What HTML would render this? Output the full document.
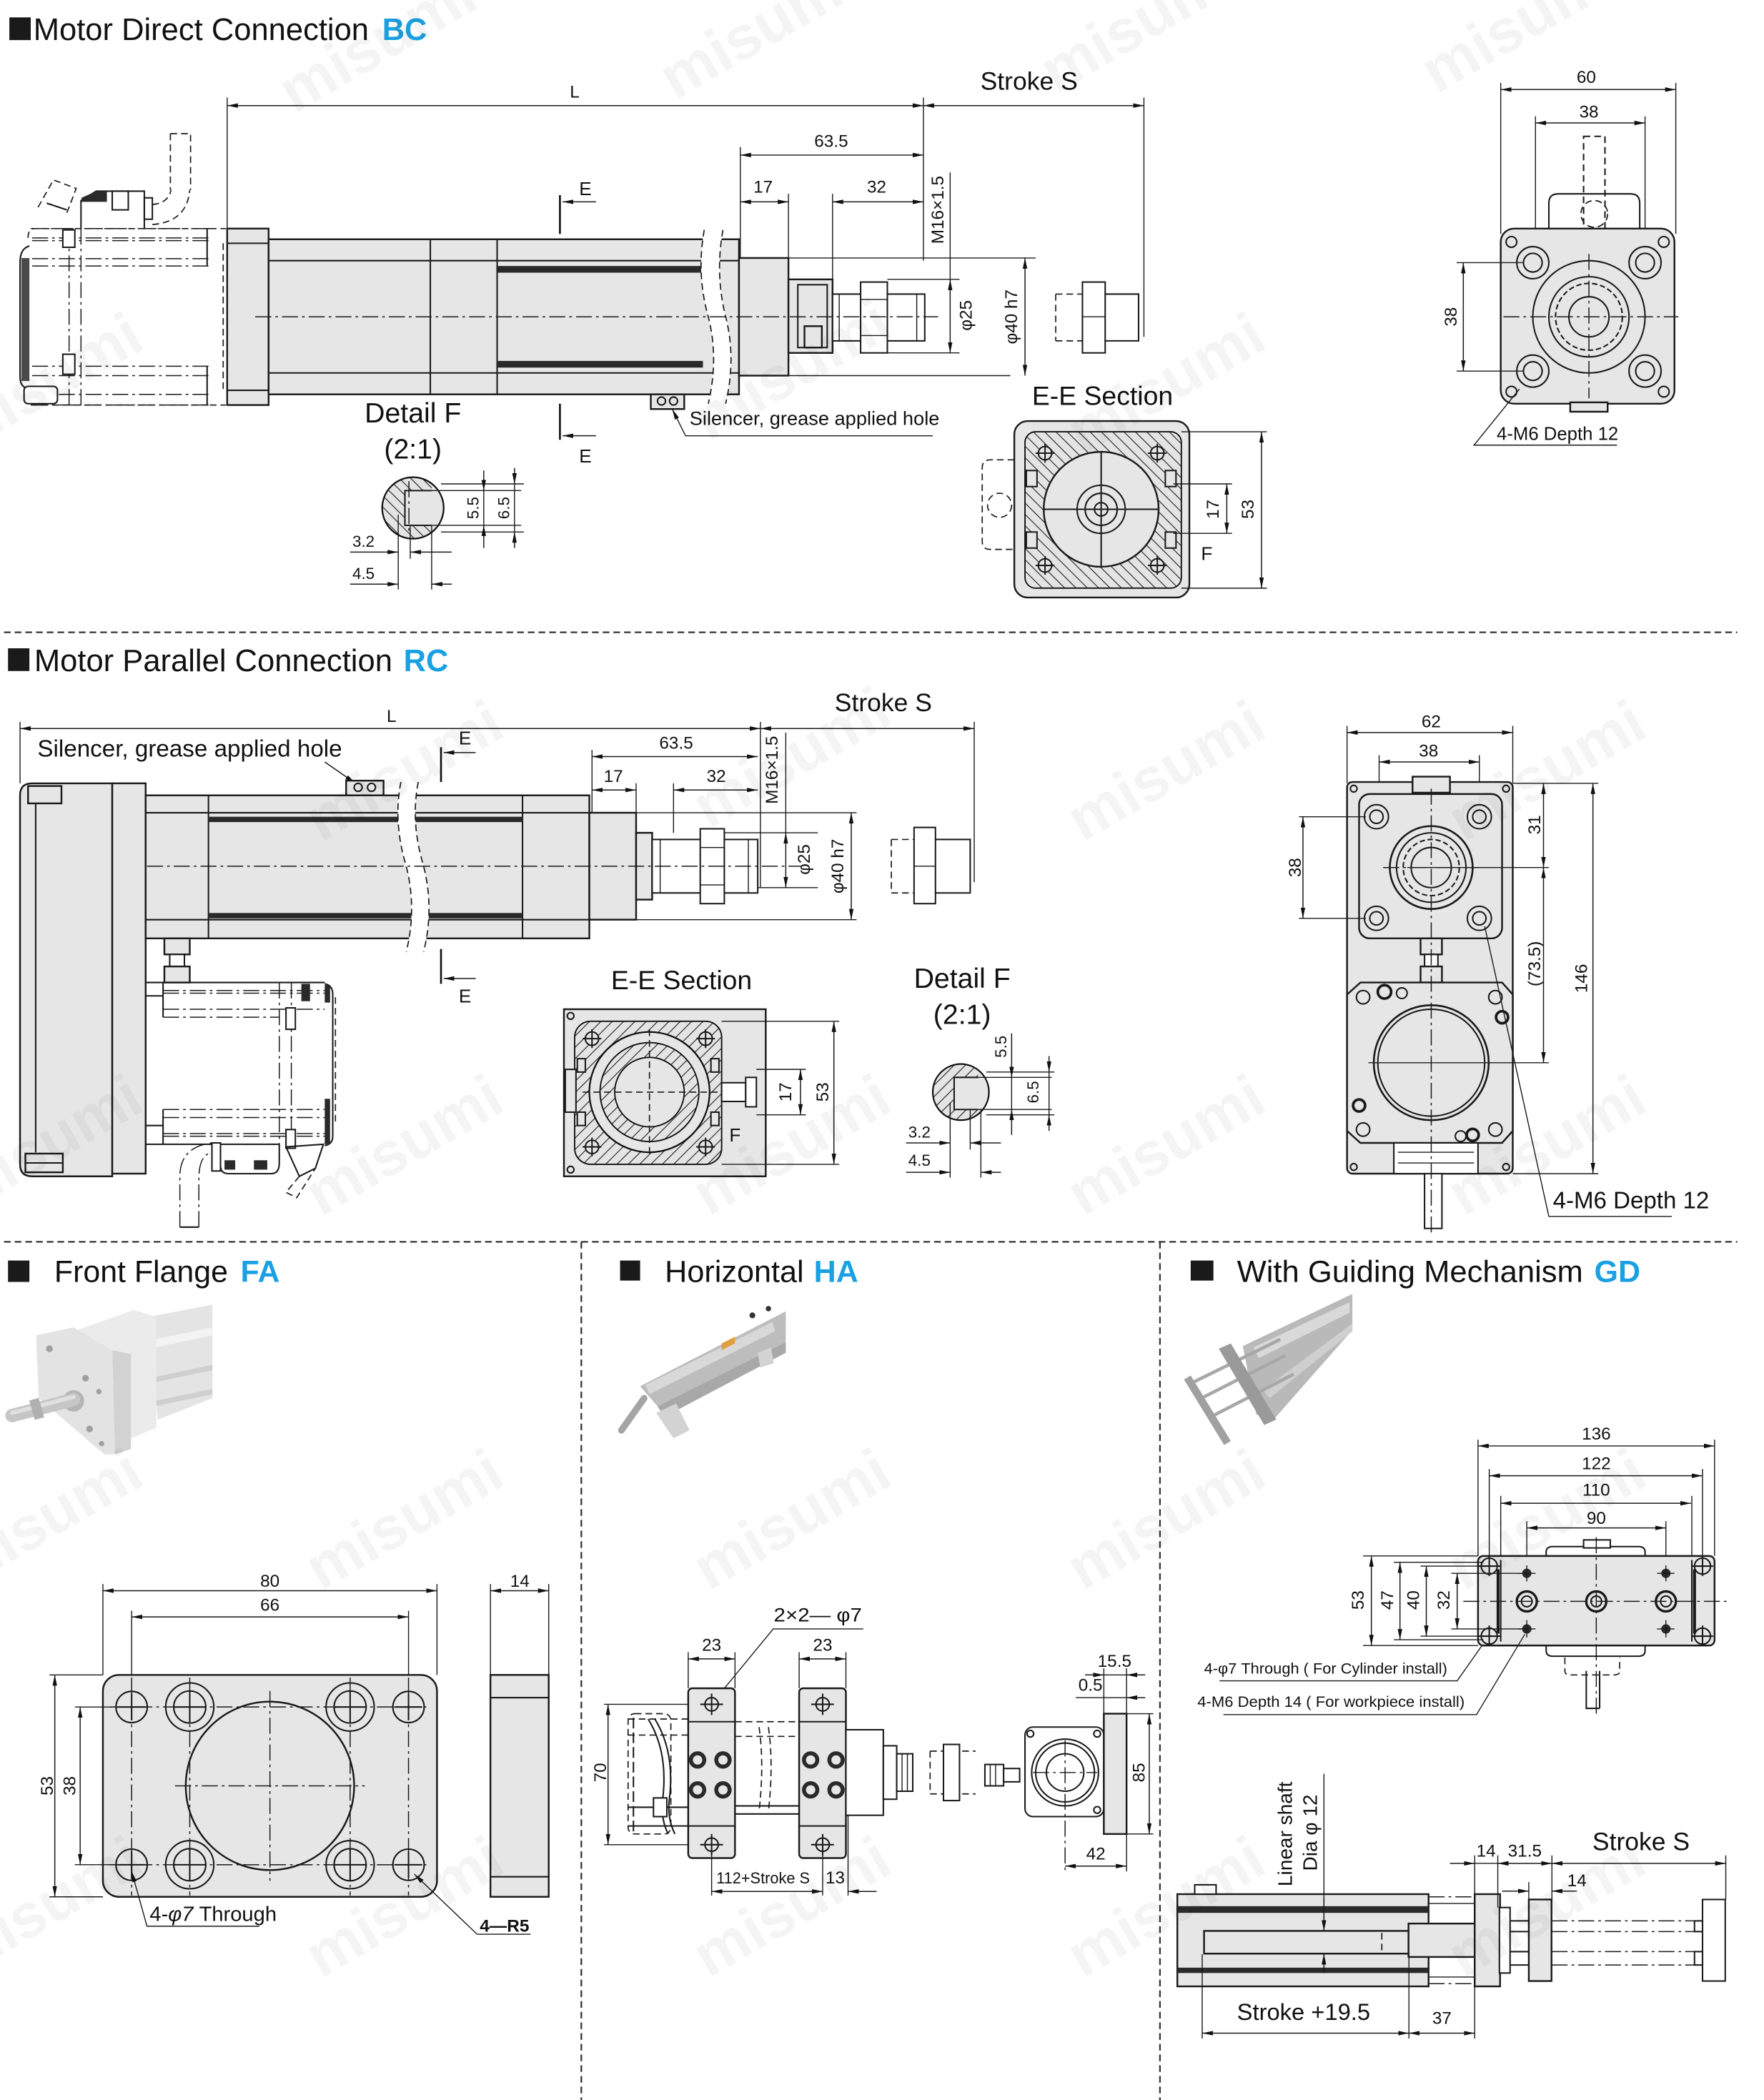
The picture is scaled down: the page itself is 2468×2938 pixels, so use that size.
<!DOCTYPE html>
<html><head><meta charset="utf-8"><style>
html,body{margin:0;padding:0;background:#fff;}
svg{display:block;}
</style></head><body>
<svg xmlns="http://www.w3.org/2000/svg" width="2468" height="2938" viewBox="0 0 1320 1571" preserveAspectRatio="none">
<defs>
<marker id="a" viewBox="0 0 8 4" refX="8" refY="2" markerWidth="8" markerHeight="4" orient="auto-start-reverse" markerUnits="userSpaceOnUse"><path d="M0,0.3L8,2L0,3.7Z" fill="#111"/></marker>
<pattern id="hb" width="6" height="6" patternUnits="userSpaceOnUse" patternTransform="rotate(-45)"><rect width="6" height="6" fill="#e4e4e4"/><line x1="0" y1="0" x2="0" y2="6" stroke="#222" stroke-width="1.2"/></pattern>
<pattern id="hr" width="6" height="6" patternUnits="userSpaceOnUse" patternTransform="rotate(45)"><rect width="6" height="6" fill="#e4e4e4"/><line x1="0" y1="0" x2="0" y2="6" stroke="#222" stroke-width="1.2"/></pattern>
<clipPath id="cf1"><circle cx="309" cy="380" r="23"/></clipPath>
<clipPath id="cf2"><circle cx="719" cy="817" r="21"/></clipPath>
</defs>
<style>
.o{fill:#e6e6e6;stroke:#1a1a1a;stroke-width:1.3}
.w{fill:#fff;stroke:#1a1a1a;stroke-width:1.1}
.n{fill:none;stroke:#1a1a1a;stroke-width:1.1}
.t{fill:none;stroke:#1a1a1a;stroke-width:0.75}
.d{fill:none;stroke:#1a1a1a;stroke-width:0.8;marker-start:url(#a);marker-end:url(#a)}
.d1{fill:none;stroke:#1a1a1a;stroke-width:0.8;marker-end:url(#a)}
.cl{fill:none;stroke:#1a1a1a;stroke-width:0.8;stroke-dasharray:12 3 2 3}
.hd{fill:none;stroke:#1a1a1a;stroke-width:0.9;stroke-dasharray:5 3}
.sep{fill:none;stroke:#333;stroke-width:1.2;stroke-dasharray:5 3}
text{font-family:"Liberation Sans",Arial,sans-serif;fill:#111}
.dim{font-size:13px}
.b{fill:#1ba1e2;font-weight:bold}
</style>

<!-- ============ BC ============ -->
<rect x="7" y="13" width="16" height="17" fill="#1a1a1a"/>
<text x="25" y="30" font-size="23.2" textLength="251" lengthAdjust="spacingAndGlyphs">Motor Direct Connection</text>
<text x="286" y="30" font-size="23.2" class="b">BC</text>

<path class="d" d="M170,79H691"/>
<path class="d" d="M691,79H856"/>
<text x="430" y="73" class="dim" text-anchor="middle">L</text>
<text x="770" y="67" font-size="19" text-anchor="middle">Stroke S</text>
<path class="t" d="M170,73V171 M691,73V195 M856,73V252"/>
<path class="d" d="M554,116H691"/>
<text x="622" y="110" class="dim" text-anchor="middle">63.5</text>
<path class="t" d="M554,110V193 M590,145V209 M623,145V220"/>
<path class="d" d="M554,151H590"/>
<path class="d" d="M623,151H691"/>
<text x="571" y="144" class="dim" text-anchor="middle">17</text>
<text x="656" y="144" class="dim" text-anchor="middle">32</text>
<text transform="translate(706,157) rotate(-90)" class="dim" text-anchor="middle">M16×1.5</text>
<path class="t" d="M711,129V209"/>
<path class="d" d="M711,209V264"/>
<path class="t" d="M664,209H718 M664,264H718 M590,193H775 M590,281H756"/>
<path class="d" d="M767,193V281"/>
<text transform="translate(727,236) rotate(-90)" class="dim" text-anchor="middle">φ25</text>
<text transform="translate(761,237) rotate(-90)" class="dim" text-anchor="middle">φ40 h7</text>

<!-- motor back -->
<path class="hd" d="M157,171H26Q21,171 21,178 M23,303H157"/>
<path class="cl" d="M23,171H157 M24,178H157 M24,180H157 M24,193.5H157 M24,199H157 M24,274H157 M24,281H157 M24,295H157 M24,303H157"/>
<path class="n" d="M155,171V199 M155,274V303"/>
<path class="cl" d="M51.7,171V303 M60.6,171V303"/>
<rect x="47" y="172" width="9" height="13" class="w" stroke-width="1.6"/>
<rect x="47" y="265" width="9" height="15" class="w" stroke-width="1.6"/>
<path class="n" d="M22,184Q15,186 15,196V282Q15,290 22,291" stroke-width="1.6"/>
<path d="M16,193H22V285H16Z" fill="#2a2a2a" opacity="0.85"/>
<rect x="18" y="289" width="25" height="13" rx="3" class="w"/>
<path class="hd" d="M157,171H169 M157,303H169 M167,182V292"/>
<path class="n" d="M60.6,171V150L72,143H108V171" stroke-width="1.2"/>
<path d="M61,148L72,143H80V151H61Z" fill="#2a2a2a"/>
<rect x="84" y="143" width="12" height="14" class="n"/>
<rect x="108" y="148" width="6" height="16" class="n"/>
<path class="hd" d="M127.5,100H142.6V142 M127.5,100V142 M114,153Q126,152 128,142 M114,168Q140,166 142,142"/>
<path class="hd" d="M28.5,155L40,134.6L57,141L49,162"/>
<path class="n" d="M35,152L50,157" stroke-width="2.5"/>

<rect x="170" y="171" width="31" height="132" class="o"/>
<path class="n" d="M170,182H201 M170,292H201"/>
<rect x="201" y="179" width="352" height="116" class="o"/>
<path class="n" d="M201,195H553 M201,279H553 M322,179V295 M372,179V295"/>
<rect x="372" y="199" width="154" height="5" fill="#2a2a2a"/>
<rect x="372" y="270" width="154" height="5" fill="#2a2a2a"/>
<path fill="#fff" d="M527,172Q521,205 530,237Q538,268 530,302L543,302Q551,268 543,237Q535,205 541,172Z"/>
<path class="hd" d="M527,172Q521,205 530,237Q538,268 530,302 M541,172Q535,205 543,237Q551,268 543,302"/>
<rect x="553" y="193" width="37" height="88" class="o"/>
<rect x="590" y="209" width="33" height="55" class="o"/>
<rect x="597" y="213" width="22" height="47" class="n"/>
<rect x="602" y="244" width="13" height="16" class="o"/>
<rect x="623" y="220" width="69" height="35" class="w"/>
<path class="t" d="M628,220V255 M686,220V255"/>
<rect x="644" y="211" width="20" height="53" class="w"/>
<path class="t" d="M644,224H664 M644,251H664"/>
<path class="cl" d="M191,237H702"/>
<path class="hd" d="M790,220H810 M790,255H810 M790,220V255"/>
<rect x="810" y="211" width="17" height="53" class="w"/>
<path class="t" d="M810,237H827"/>
<path class="n" d="M827,220H852V255H827 M852,222V253"/>

<rect x="487" y="295" width="25" height="11" class="o"/>
<circle cx="495" cy="300" r="3" class="n"/><circle cx="504" cy="300" r="3" class="n"/>
<path class="t" d="M503,306L513,326H698" style="marker-start:url(#a)"/>
<text x="516" y="318" font-size="14.5" textLength="187" lengthAdjust="spacingAndGlyphs">Silencer, grease applied hole</text>

<path stroke="#111" stroke-width="1.4" d="M419,146V175 M419,302V329"/>
<path class="d1" d="M446,151H421"/>
<path class="d1" d="M446,326H421"/>
<text x="438" y="146" font-size="14" text-anchor="middle">E</text>
<text x="438" y="346" font-size="14" text-anchor="middle">E</text>

<!-- Detail F BC -->
<text x="309" y="316" font-size="21" text-anchor="middle">Detail F</text>
<text x="309" y="343" font-size="21" text-anchor="middle">(2:1)</text>
<circle cx="309" cy="380" r="23" fill="url(#hb)"/>
<rect x="303" y="367" width="35" height="26" fill="#e6e6e6" clip-path="url(#cf1)"/>
<path fill="#e6e6e6" clip-path="url(#cf1)" d="M323,355H340V405H323Z"/>
<circle cx="309" cy="380" r="23" fill="none" stroke="#111" stroke-width="1.2"/>
<path class="n" d="M323,367H303V393H323"/>
<path class="cl" d="M306,360V400"/>
<path class="t" d="M323,367H390 M323,393H390 M330,362H392 M330,398H392"/>
<path class="d1" d="M362,352V367"/><path class="d1" d="M362,410V393"/><path class="t" d="M362,367V393"/>
<path class="d1" d="M385,350V362"/><path class="d1" d="M385,410V398"/><path class="t" d="M385,362V398"/>
<text transform="translate(358,380) rotate(-90)" font-size="12" text-anchor="middle">5.5</text>
<text transform="translate(381,380) rotate(-90)" font-size="12" text-anchor="middle">6.5</text>
<text x="272" y="409" font-size="12" text-anchor="middle">3.2</text>
<text x="272" y="433" font-size="12" text-anchor="middle">4.5</text>
<path class="d1" d="M262,413H298"/><path class="d1" d="M338,413H307"/>
<path class="d1" d="M262,437H298"/><path class="d1" d="M338,437H323"/>
<path class="t" d="M298,385V441 M307,393V418 M323,393V441"/>

<!-- E-E BC -->
<text x="825" y="303" font-size="20" text-anchor="middle">E-E Section</text>
<path class="hd" d="M759,344H741Q735,344 735,350V405Q735,411 741,411H759"/>
<circle cx="748" cy="378" r="9" class="hd"/>
<rect x="759" y="315" width="131" height="132" rx="10" class="o" stroke-width="1.6"/>
<rect x="767" y="323" width="117" height="117" rx="8" fill="url(#hb)" stroke="#111"/>
<circle cx="824" cy="381" r="43" class="o"/>
<circle cx="824" cy="381" r="18" class="n"/><circle cx="824" cy="381" r="12" class="n"/><circle cx="824" cy="381" r="5" class="n"/>
<path class="n" d="M781,381H867 M824,338V424"/>
<g class="n">
<circle cx="782" cy="339" r="5" fill="#e6e6e6"/><circle cx="866" cy="339" r="5" fill="#e6e6e6"/><circle cx="782" cy="423" r="5" fill="#e6e6e6"/><circle cx="866" cy="423" r="5" fill="#e6e6e6"/>
<path d="M775,339H789 M782,332V346 M859,339H873 M866,332V346 M775,423H789 M782,416V430 M859,423H873 M866,416V430"/>
<rect x="768" y="352" width="8" height="12" fill="#e6e6e6"/><rect x="768" y="398" width="8" height="12" fill="#e6e6e6"/>
<rect x="872" y="352" width="8" height="12" fill="#e6e6e6"/><rect x="872" y="398" width="8" height="12" fill="#e6e6e6"/>
</g>
<path class="t" d="M884,323H948 M884,440H948 M878,362H922 M878,399H922"/>
<path class="d" d="M944,323V440"/>
<path class="d" d="M918,362V399"/>
<text transform="translate(938,381) rotate(-90)" class="dim" text-anchor="middle">53</text>
<text transform="translate(912,381) rotate(-90)" class="dim" text-anchor="middle">17</text>
<text x="903" y="419" font-size="14" text-anchor="middle">F</text>

<!-- right view BC -->
<path class="t" d="M1123,62V175 M1254,62V175 M1149,87V196 M1231,87V196"/>
<path class="d" d="M1123,67H1254"/>
<path class="d" d="M1149,92H1231"/>
<text x="1187" y="62" class="dim" text-anchor="middle">60</text>
<text x="1189" y="88" class="dim" text-anchor="middle">38</text>
<rect x="1185" y="102" width="16" height="69" class="w" stroke-dasharray="5 3"/>
<path class="n" d="M1159,171V152Q1159,145 1166,145H1220Q1227,145 1227,152V171"/>
<circle cx="1193" cy="160" r="10" class="hd"/>
<rect x="1123" y="171" width="130" height="131" rx="10" class="o" stroke-width="1.6"/>
<g class="n">
<circle cx="1131" cy="181" r="4"/><circle cx="1245" cy="181" r="4"/><circle cx="1131" cy="293" r="4"/><circle cx="1245" cy="293" r="4"/>
<circle cx="1147" cy="196.5" r="12"/><circle cx="1147" cy="196.5" r="7"/>
<circle cx="1231" cy="196.5" r="12"/><circle cx="1231" cy="196.5" r="7"/>
<circle cx="1147" cy="277.6" r="12"/><circle cx="1147" cy="277.6" r="7"/>
<circle cx="1231" cy="277.6" r="12"/><circle cx="1231" cy="277.6" r="7"/>
<circle cx="1189" cy="237" r="42"/><circle cx="1189" cy="237" r="30"/><circle cx="1189" cy="237" r="25" stroke-dasharray="4 2"/><circle cx="1189" cy="237" r="15"/>
</g>
<path class="cl" d="M1125,237H1256 M1189,190V298"/>
<rect x="1175" y="301" width="28" height="7" class="o"/>
<path class="t" d="M1090,196.5H1140 M1090,277.6H1140"/>
<path class="d" d="M1095,196.5V277.6"/>
<text transform="translate(1090,237) rotate(-90)" class="dim" text-anchor="middle">38</text>
<text x="1120" y="329" font-size="13.7" textLength="91" lengthAdjust="spacingAndGlyphs">4-M6 Depth 12</text>
<path class="t" d="M1137,291L1103,333H1210"/>

<path class="sep" d="M3,473H1300"/>

<!-- ============ RC ============ -->
<rect x="6" y="485" width="16" height="17" fill="#1a1a1a"/>
<text x="25.6" y="502" font-size="23.2" textLength="268" lengthAdjust="spacingAndGlyphs">Motor Parallel Connection</text>
<text x="302" y="502" font-size="23.2" class="b">RC</text>

<path class="d" d="M15,545H569"/>
<path class="d" d="M569,545H729"/>
<text x="293" y="540" class="dim" text-anchor="middle">L</text>
<text x="661" y="532" font-size="19" text-anchor="middle">Stroke S</text>
<path class="t" d="M15,540V586 M569,540V664 M729,540V660"/>
<path class="d" d="M443,566H567"/>
<text x="506" y="560" class="dim" text-anchor="middle">63.5</text>
<path class="t" d="M443,561V608 M476,586V608 M504,586V623"/>
<path class="d" d="M443,591H476"/>
<path class="d" d="M504,591H567"/>
<text x="459" y="585" class="dim" text-anchor="middle">17</text>
<text x="536" y="585" class="dim" text-anchor="middle">32</text>
<text transform="translate(582,576) rotate(-90)" class="dim" text-anchor="middle">M16×1.5</text>
<path class="t" d="M588,548V623"/>
<path class="d" d="M588,623V664"/>
<path class="t" d="M540,623H612 M540,664H612 M476,608H641 M476,688H641"/>
<path class="d" d="M637,608V688"/>
<text transform="translate(606,643) rotate(-90)" class="dim" text-anchor="middle">φ25</text>
<text transform="translate(631,648) rotate(-90)" class="dim" text-anchor="middle">φ40 h7</text>
<text x="28" y="566" font-size="17.6" textLength="228" lengthAdjust="spacingAndGlyphs">Silencer, grease applied hole</text>
<path class="d1" d="M243,570L266,586"/>
<rect x="259" y="584" width="28" height="11" class="o"/>
<circle cx="268" cy="589" r="3" class="n"/><circle cx="278" cy="589" r="3" class="n"/>

<!-- body RC -->
<path class="o" d="M84,586H24Q15,586 15,595V871Q15,880 24,880H84Z" stroke-width="1.6"/>
<path class="n" d="M26.7,592V862"/>
<rect x="21" y="588" width="25" height="13" class="o"/>
<rect x="19" y="863" width="28" height="14" class="o"/>
<path class="n" d="M19,870H47"/>
<rect x="84" y="586" width="25" height="292" class="o"/>
<rect x="109" y="595" width="332" height="107" class="o"/>
<path class="n" d="M109,608H441 M109,688H441 M156,595V702 M391,595V702"/>
<rect x="156" y="611" width="235" height="4" fill="#2a2a2a"/>
<rect x="156" y="683" width="235" height="4" fill="#2a2a2a"/>
<path fill="#fff" d="M300,585Q294,615 304,648Q312,680 304,712L317,712Q325,680 317,648Q307,615 313,585Z"/>
<path class="hd" d="M300,585Q294,615 304,648Q312,680 304,712 M313,585Q307,615 317,648Q325,680 317,712"/>
<rect x="441" y="608" width="35" height="80" class="o"/>
<rect x="476" y="623" width="12" height="50" class="o"/>
<rect x="488" y="628" width="79" height="40" class="w"/>
<path class="t" d="M494,628V668 M560,628V668"/>
<rect x="524" y="620" width="18" height="56" class="w"/>
<path class="t" d="M524,634H542 M524,662H542"/>
<path class="cl" d="M110,648H600"/>
<path class="hd" d="M667,628H684 M667,668H684 M667,628V668"/>
<rect x="684" y="619" width="16" height="57" class="w"/>
<path class="t" d="M684,648H700"/>
<path class="n" d="M700,628H726V668H700 M726,630V666"/>

<!-- coupling + lower motor RC -->
<rect x="123" y="702" width="19" height="12" class="o"/>
<rect x="127" y="714" width="11" height="9" class="w"/>
<rect x="123" y="723" width="19" height="12" class="o"/>
<path class="n" d="M109,735H243 M109,745H122 M122,735V761 M122,830V856 M109,842H122 M109,856H209"/>
<path class="cl" d="M122,741H243 M122,743H243 M122,755H243 M122,761H209 M122,830H243 M122,836H243 M122,848H243 M122,850H243 M122,856H209"/>
<path class="cl" d="M209,735V856 M218,735V856"/>
<rect x="214" y="754" width="7" height="16" class="w" stroke-width="1.4"/>
<rect x="214" y="845" width="7" height="14" class="w" stroke-width="1.4"/>
<rect x="225.5" y="736" width="6.5" height="13" fill="#2a2a2a"/>
<path class="n" d="M243,736Q249,737 249,744V850Q249,856 243,857" stroke-width="1.4"/>
<path d="M243,737H247V750H243Z M243,822H247V856H243Z" fill="#2a2a2a"/>
<path class="hd" d="M251,746V842"/>
<path class="cl" d="M148.8,918V882Q148.8,864 158.6,862 M134.6,918V880Q134.6,858 158.6,855"/>
<path class="n" d="M134.6,918H148.8"/>
<rect x="158.6" y="855" width="6.4" height="21" class="w"/>
<path class="n" d="M165,858V872Q165,878 171,878H203Q209,878 209,870V856" stroke-width="1.3"/>
<path d="M168,868H176V875H168Z M190,868H200V875H190Z" fill="#2a2a2a"/>
<path class="n" d="M214,858L242,856L236,874L224,880Z"/>
<path class="hd" d="M224,880L214,892L222,896L236,874"/>

<path stroke="#111" stroke-width="1.4" d="M330,559V585 M330,710V736"/>
<path class="d1" d="M356,563H332"/>
<path class="d1" d="M356,732H332"/>
<text x="348" y="557" font-size="14" text-anchor="middle">E</text>
<text x="348" y="750" font-size="14" text-anchor="middle">E</text>

<!-- E-E RC -->
<text x="510" y="740" font-size="20" text-anchor="middle">E-E Section</text>
<rect x="422" y="755" width="151" height="125" class="o" stroke-width="1.5"/>
<rect x="430" y="764" width="110" height="107" rx="12" fill="url(#hr)" stroke="#111"/>
<circle cx="486" cy="817" r="45" fill="#e6e6e6" stroke="#111" stroke-width="1.2"/>
<circle cx="486" cy="817" r="37" fill="url(#hr)" stroke="#111"/>
<circle cx="486" cy="817" r="26" fill="#e6e6e6" stroke="#111"/>
<path class="hd" d="M436,817H540 M486,770V866"/>
<g class="n">
<circle cx="443" cy="777" r="5" fill="#e6e6e6"/><circle cx="528" cy="777" r="5" fill="#e6e6e6"/><circle cx="443" cy="858" r="5" fill="#e6e6e6"/><circle cx="528" cy="858" r="5" fill="#e6e6e6"/>
<path d="M436,777H450 M443,770V784 M521,777H535 M528,770V784 M436,858H450 M443,851V865 M521,858H535 M528,851V865"/>
<circle cx="427" cy="760" r="2.5"/><circle cx="427" cy="875" r="2.5"/>
<rect x="423" y="800" width="8" height="32" fill="#e6e6e6"/>
<rect x="432" y="792" width="6" height="10" fill="#e6e6e6"/><rect x="432" y="832" width="6" height="10" fill="#e6e6e6"/>
<rect x="532" y="792" width="6" height="10" fill="#e6e6e6"/><rect x="532" y="832" width="6" height="10" fill="#e6e6e6"/>
<rect x="540" y="810" width="18" height="14" fill="#fff"/><rect x="558" y="806" width="8" height="22" fill="#fff"/>
</g>
<path class="t" d="M540,764H628 M540,871H628 M566,800H603 M566,834H603"/>
<path class="d" d="M624,764V871"/>
<path class="d" d="M599,800V834"/>
<text transform="translate(620,817) rotate(-90)" class="dim" text-anchor="middle">53</text>
<text transform="translate(592,817) rotate(-90)" class="dim" text-anchor="middle">17</text>
<text x="550" y="854" font-size="14" text-anchor="middle">F</text>

<!-- Detail F RC -->
<text x="720" y="739" font-size="21" text-anchor="middle">Detail F</text>
<text x="720" y="766" font-size="21" text-anchor="middle">(2:1)</text>
<circle cx="719" cy="817" r="21" fill="url(#hr)"/>
<rect x="714" y="806" width="30" height="24" fill="#e6e6e6" clip-path="url(#cf2)"/>
<path fill="#e6e6e6" clip-path="url(#cf2)" d="M732,790H745V845H732Z"/>
<circle cx="719" cy="817" r="21" fill="none" stroke="#111" stroke-width="1.2"/>
<path class="n" d="M732,806H714V830H732"/>
<path class="t" d="M732,806H787 M732,830H787 M738,802H789 M738,834H789"/>
<path class="d1" d="M757,773V806"/><path class="d1" d="M757,849V830"/><path class="t" d="M757,806V830"/>
<path class="d1" d="M785,790V802"/><path class="d1" d="M785,846V834"/><path class="t" d="M785,802V834"/>
<text transform="translate(753,783) rotate(-90)" font-size="12" text-anchor="middle">5.5</text>
<text transform="translate(777,817) rotate(-90)" font-size="12" text-anchor="middle">6.5</text>
<text x="688" y="851" font-size="12" text-anchor="middle">3.2</text>
<text x="688" y="872" font-size="12" text-anchor="middle">4.5</text>
<path class="d1" d="M678,855H711"/><path class="d1" d="M749,855H726"/>
<path class="d1" d="M678,877H711"/><path class="d1" d="M749,877H734"/>
<path class="t" d="M711,825V881 M726,830V860 M734,830V881"/>

<!-- right view RC -->
<path class="t" d="M1008,543V586 M1132,543V586 M1032,565V611 M1107,565V611"/>
<path class="d" d="M1008,548H1132"/>
<path class="d" d="M1032,570H1107"/>
<text x="1071" y="544" class="dim" text-anchor="middle">62</text>
<text x="1069" y="566" class="dim" text-anchor="middle">38</text>
<rect x="1008" y="585" width="124" height="293" rx="4" class="o" stroke-width="1.5"/>
<rect x="1057" y="581" width="28" height="12" class="o"/>
<rect x="1017" y="594" width="107" height="108" rx="8" class="o"/>
<g class="n">
<circle cx="1013" cy="590" r="2.5"/><circle cx="1127" cy="590" r="2.5"/><circle cx="1013" cy="873" r="2.5"/><circle cx="1127" cy="873" r="2.5"/>
<circle cx="1030" cy="611" r="9"/><circle cx="1030" cy="611" r="5"/>
<circle cx="1107" cy="611" r="9"/><circle cx="1107" cy="611" r="5"/>
<circle cx="1030" cy="687" r="9"/><circle cx="1030" cy="687" r="5"/>
<circle cx="1107" cy="687" r="9"/><circle cx="1107" cy="687" r="5"/>
<circle cx="1071" cy="649" r="31" stroke-width="1.4"/><circle cx="1071" cy="649" r="26"/><circle cx="1071" cy="649" r="21" stroke-dasharray="4 2"/><circle cx="1071" cy="649" r="15"/>
</g>
<rect x="1063" y="702" width="16" height="12" class="o"/>
<rect x="1066" y="714" width="10" height="9" class="w"/>
<rect x="1063" y="723" width="16" height="12" class="o"/>
<path class="o" d="M1018,735H1124L1132,744V846L1124,855H1018L1008,846V744Z"/>
<g class="n">
<circle cx="1020" cy="746" r="5"/><circle cx="1119" cy="746" r="5"/><circle cx="1020" cy="845" r="5"/><circle cx="1119" cy="845" r="5"/>
<circle cx="1036" cy="742" r="5" stroke-width="2"/><circle cx="1049" cy="743" r="4"/><circle cx="1124" cy="761" r="4.5" stroke-width="2"/>
<circle cx="1017" cy="827" r="4.5" stroke-width="2"/><circle cx="1093" cy="850" r="4"/><circle cx="1102" cy="849" r="4.5" stroke-width="2"/>
<circle cx="1071" cy="795" r="43" stroke-width="1.4"/><circle cx="1071" cy="795" r="40"/>
</g>
<rect x="1043" y="855" width="63" height="23" class="w"/>
<path class="t" d="M1046,862H1103 M1046,870H1103"/>
<rect x="1066" y="878" width="13" height="41" class="w"/>
<path class="cl" d="M1071,590V925 M1035,649H1107"/>
<path class="t" d="M972,611H1022 M972,687H1022 M1132,586H1196 M1053,649H1159 M1024,795H1159 M1132,878H1196"/>
<path class="d" d="M975,611V687"/>
<path class="d" d="M1155,586V649"/>
<path class="d" d="M1155,649V795"/>
<path class="d" d="M1192,586V878"/>
<text transform="translate(973.5,649) rotate(-90)" class="dim" text-anchor="middle">38</text>
<text transform="translate(1152.5,617) rotate(-90)" class="dim" text-anchor="middle">31</text>
<text transform="translate(1152.5,721) rotate(-90)" class="dim" text-anchor="middle">(73.5)</text>
<text transform="translate(1187.5,732) rotate(-90)" class="dim" text-anchor="middle">146</text>
<text x="1162" y="904" font-size="17.7" textLength="117" lengthAdjust="spacingAndGlyphs">4-M6 Depth 12</text>
<path class="t" d="M1111,693L1159,910H1251"/>

<path class="sep" d="M3,929H1300"/>
<path class="sep" d="M435,929V1571 M868,929V1571"/>

<!-- ============ FA ============ -->
<rect x="6" y="943" width="16" height="16" fill="#1a1a1a"/>
<text x="40.6" y="959" font-size="23" textLength="130" lengthAdjust="spacingAndGlyphs">Front Flange</text>
<text x="180" y="959" font-size="23" class="b">FA</text>
<!-- photo -->
<polygon points="112,985 159,976 159,1046 118,1062" fill="#e4e4e4"/>
<polygon points="116,1002 159,993 159,999 116,1008" fill="#f3f3f3"/>
<polygon points="116,1030 159,1021 159,1025 116,1034" fill="#cfcfcf"/>
<polygon points="116,1048 159,1039 159,1043 116,1052" fill="#cfcfcf"/>
<polygon points="55,996 100,980 117,985 117,1068 98,1076 84,1010" fill="#ebebeb"/>
<polygon points="84,1010 98,1013 98,1084 86,1088" fill="#d2d2d2"/>
<polygon points="27,999 55,993 84,1010 86,1088 78,1088 29,1046" fill="#e3e3e3"/>
<g fill="#a0a0a0"><circle cx="37" cy="1009" r="2.5"/><circle cx="64" cy="1031" r="2.5"/><circle cx="74" cy="1041" r="2"/><circle cx="67" cy="1069" r="2.5"/><circle cx="76" cy="1080" r="2"/></g>
<circle cx="55" cy="1048" r="8" fill="#b5b5b5"/>
<path d="M9,1059L55,1047" stroke="#c6c6c6" stroke-width="10" stroke-linecap="round"/>
<path d="M9,1057L55,1045" stroke="#e0e0e0" stroke-width="3" stroke-linecap="round"/>
<path d="M24,1055L31,1053" stroke="#b0b0b0" stroke-width="15"/>

<path class="t" d="M77,1185V1253 M327,1185V1253 M98.5,1205V1265 M305.7,1205V1265 M367,1185V1253 M410.6,1185V1253"/>
<path class="d" d="M77,1190H327"/>
<path class="d" d="M98.5,1209.6H305.7"/>
<path class="d" d="M367,1190H410.6"/>
<text x="202" y="1187" class="dim" text-anchor="middle">80</text>
<text x="202" y="1205" class="dim" text-anchor="middle">66</text>
<text x="389" y="1187" class="dim" text-anchor="middle">14</text>
<rect x="77" y="1253" width="250" height="166" rx="12" class="o" stroke-width="1.5"/>
<circle cx="202" cy="1336" r="63" class="o" stroke-width="1.5"/>
<g class="n">
<circle cx="98.5" cy="1277" r="11.7"/><circle cx="305.7" cy="1277" r="11.7"/><circle cx="98.5" cy="1395" r="11.7"/><circle cx="305.7" cy="1395" r="11.7"/>
<circle cx="142" cy="1277" r="18"/><circle cx="142" cy="1277" r="12"/><circle cx="262" cy="1277" r="18"/><circle cx="262" cy="1277" r="12"/>
<circle cx="142" cy="1395" r="18"/><circle cx="142" cy="1395" r="12"/><circle cx="262" cy="1395" r="18"/><circle cx="262" cy="1395" r="12"/>
<path d="M88,1277H109 M98.5,1267V1287 M295,1277H316 M305.7,1267V1287 M88,1395H109 M98.5,1385V1405 M295,1395H316 M305.7,1385V1405 M130,1277H154 M142,1265V1289 M250,1277H274 M262,1265V1289 M130,1395H154 M142,1383V1407 M250,1395H274 M262,1383V1407"/>
</g>
<path class="cl" d="M82,1277H322 M82,1395H322 M131,1336H273 M202,1265V1407 M98.5,1255V1418 M305.7,1255V1418 M142,1255V1418 M262,1255V1418" stroke-width="0.6"/>
<rect x="367" y="1253" width="43.6" height="166" class="o" stroke-width="1.5"/>
<path class="n" d="M367,1270H410.6 M367,1404H410.6"/>
<path class="t" d="M37,1253H77 M37,1419H77 M56,1277H86 M56,1395H86"/>
<path class="d" d="M41,1253V1419"/>
<path class="d" d="M60,1277V1395"/>
<text transform="translate(39.5,1336) rotate(-90)" class="dim" text-anchor="middle">53</text>
<text transform="translate(56.5,1336) rotate(-90)" class="dim" text-anchor="middle">38</text>
<text x="112" y="1437" font-size="15.5" textLength="95" lengthAdjust="spacingAndGlyphs">4-<tspan font-style="italic">φ7</tspan> Through</text>
<path class="t" d="M98.5,1400L110,1441H194" style="marker-start:url(#a)"/>
<text x="359" y="1445" font-size="13" font-weight="bold" textLength="37" lengthAdjust="spacingAndGlyphs">4—R5</text>
<path class="t" d="M310,1402L357,1447H397" style="marker-start:url(#a)"/>

<!-- ============ HA ============ -->
<rect x="464" y="943" width="15" height="15" fill="#1a1a1a"/>
<text x="497.5" y="959" font-size="23" textLength="104" lengthAdjust="spacingAndGlyphs">Horizontal</text>
<text x="609" y="959" font-size="23" class="b">HA</text>
<polygon points="479,1037 588,981 588,1004 492,1052" fill="#bdbdbd"/>
<polygon points="483,1036 578,989 580,996 486,1043" fill="#d8d8d8"/>
<polygon points="492,1052 588,1004 588,1012 497,1060" fill="#a8a8a8"/>
<polygon points="540,1005 550,1000 550,1005 540,1010" fill="#e0a040"/>
<circle cx="563" cy="984" r="2.2" fill="#333"/><circle cx="575" cy="979" r="2" fill="#333"/>
<polygon points="491,1057 506,1050 516,1070 504,1076" fill="#d3d3d3"/>
<polygon points="567,1012 577,1008 579,1020 569,1023" fill="#d3d3d3"/>
<path d="M465,1070L482,1046" stroke="#a5a5a5" stroke-width="5" stroke-linecap="round"/>

<path class="t" d="M515,1236V1263 M550,1236V1263 M598,1236V1263 M633,1236V1263"/>
<path class="d" d="M515,1241H550"/>
<path class="d" d="M598,1241H633"/>
<text x="532.5" y="1235" class="dim" text-anchor="middle">23</text>
<text x="615.6" y="1235" class="dim" text-anchor="middle">23</text>
<text x="612" y="1213" font-size="14.5" text-anchor="middle" textLength="66" lengthAdjust="spacingAndGlyphs">2×2— φ7</text>
<path class="t" d="M646,1218.6H578.6L533,1274"/>
<path class="t" d="M452,1275H525 M452,1380H530"/>
<path class="d" d="M455,1275V1380"/>
<text transform="translate(453.5,1326) rotate(-90)" class="dim" text-anchor="middle">70</text>
<rect x="470" y="1282" width="32" height="90" rx="5" class="hd"/>
<path class="n" d="M474,1285V1370" stroke-width="2.5" stroke-dasharray="8 3"/>
<path class="n" d="M485,1286Q500,1310 496,1345Q494,1360 500,1372 M490,1286Q505,1310 501,1345Q499,1360 505,1372" stroke-width="0.8"/>
<path class="hd" d="M470,1286H515 M470,1298H515 M550,1288H598 M550,1299H598"/>
<path class="n" d="M470,1352H515 M470,1366H515 M550,1351H598 M550,1357H598"/>
<rect x="489" y="1345" width="10" height="14" class="w"/>
<path class="hd" d="M568,1292Q572,1320 568,1355 M575,1292Q579,1320 575,1355"/>
<g>
<rect x="515" y="1263" width="35" height="127" rx="3" class="o"/>
<rect x="598" y="1263" width="35" height="127" rx="3" class="o"/>
<path class="n" d="M515,1288H550 M515,1366H550 M598,1288H633 M598,1366H633"/>
<g class="n">
<circle cx="532.5" cy="1275" r="5"/><circle cx="532.5" cy="1380" r="5"/><circle cx="615.6" cy="1275" r="5"/><circle cx="615.6" cy="1380" r="5"/>
<path d="M524,1275H541 M532.5,1267V1283 M524,1380H541 M532.5,1372V1388 M607,1275H624 M615.6,1267V1283 M607,1380H624 M615.6,1372V1388"/>
</g>
<g fill="#2a2a2a">
<circle cx="522" cy="1316.6" r="6.5"/><circle cx="541" cy="1316.6" r="6.5"/><circle cx="522" cy="1339" r="6.5"/><circle cx="541" cy="1339" r="6.5"/>
<circle cx="606.6" cy="1316.6" r="6.5"/><circle cx="625.6" cy="1316.6" r="6.5"/><circle cx="606.6" cy="1339" r="6.5"/><circle cx="625.6" cy="1339" r="6.5"/>
</g>
<g fill="#e6e6e6">
<circle cx="522" cy="1316.6" r="3.5"/><circle cx="541" cy="1316.6" r="3.5"/><circle cx="522" cy="1339" r="3.5"/><circle cx="541" cy="1339" r="3.5"/>
<circle cx="606.6" cy="1316.6" r="3.5"/><circle cx="625.6" cy="1316.6" r="3.5"/><circle cx="606.6" cy="1339" r="3.5"/><circle cx="625.6" cy="1339" r="3.5"/>
</g>
</g>
<rect x="633" y="1294" width="28" height="64" class="w"/>
<rect x="661" y="1306" width="10" height="40" class="w"/>
<rect x="671" y="1312" width="12" height="28" class="w"/>
<path class="t" d="M675,1312V1340 M679,1312V1340"/>
<path class="hd" d="M696,1310H730 M696,1342H730 M696,1310V1342"/>
<rect x="706" y="1305" width="12" height="42" class="w"/>
<rect x="737" y="1320" width="14" height="16" class="w"/>
<rect x="751" y="1323" width="12" height="10" class="w"/>
<path class="t" d="M741,1320V1336 M745,1320V1336"/>
<rect x="767" y="1292" width="59" height="67" rx="6" class="w"/>
<circle cx="771" cy="1297" r="2.5" class="n"/><circle cx="821" cy="1297" r="2.5" class="n"/><circle cx="821" cy="1354" r="2.5" class="n"/>
<circle cx="797" cy="1326" r="25" class="n" stroke-width="1.4"/>
<circle cx="797" cy="1326" r="22" class="n"/>
<circle cx="797" cy="1326" r="14" class="n"/>
<path class="cl" d="M773,1326H821 M797,1302V1400"/>
<rect x="826" y="1282" width="17" height="90" class="o"/>
<path class="t" d="M843,1282H863 M843,1372H863 M826,1248V1282 M843,1248V1282 M843,1372V1400"/>
<path class="d" d="M860,1282V1372"/>
<text transform="translate(856.5,1326) rotate(-90)" class="dim" text-anchor="middle">85</text>
<path class="d1" d="M812,1253H826"/><path class="d1" d="M857,1253H843"/><path class="t" d="M826,1253H843"/>
<text x="834" y="1247" class="dim" text-anchor="middle">15.5</text>
<path class="d1" d="M857,1270H843"/><path class="t" d="M805,1270H843"/>
<text x="816" y="1265" class="dim" text-anchor="middle">0.5</text>
<path class="d" d="M797,1396H843"/>
<text x="820" y="1391" class="dim" text-anchor="middle">42</text>
<path class="t" d="M532.5,1380V1418 M615.6,1380V1418 M634.6,1358V1418"/>
<path class="d" d="M532.5,1415H615.6"/>
<path class="d1" d="M656,1415H634.6"/>
<text x="571" y="1409" font-size="12" text-anchor="middle" textLength="70" lengthAdjust="spacingAndGlyphs">112+Stroke S</text>
<text x="625" y="1409" class="dim" text-anchor="middle">13</text>

<!-- ============ GD ============ -->
<rect x="891" y="943" width="17" height="15" fill="#1a1a1a"/>
<text x="925.6" y="959" font-size="23" textLength="259" lengthAdjust="spacingAndGlyphs">With Guiding Mechanism</text>
<text x="1193" y="959" font-size="23" class="b">GD</text>
<polygon points="930,1007 1012,968 1012,995 953,1062 940,1058" fill="#b9b9b9"/>
<polygon points="938,1008 1010,974 1010,982 942,1016" fill="#d9d9d9"/>
<polygon points="945,1040 1012,990 1012,996 950,1046" fill="#cfcfcf"/>
<path d="M893,1034L958,1002 M899,1046L962,1014 M906,1060L968,1028" stroke="#a8a8a8" stroke-width="2.5"/>
<polygon points="912,1009 921,1005 955,1062 946,1066" fill="#9a9a9a"/>
<polygon points="886,1032 891,1029 921,1078 916,1081" fill="#a0a0a0"/>

<path class="t" d="M1106,1077V1164 M1283,1077V1164 M1114.4,1099V1168 M1274,1099V1168 M1123,1119V1168 M1266,1119V1168 M1142.5,1138V1173 M1246.6,1138V1173"/>
<path class="d" d="M1106,1081.7H1283"/>
<path class="d" d="M1114.4,1104H1274"/>
<path class="d" d="M1123,1124.6H1265.4"/>
<path class="d" d="M1142.5,1143H1246.6"/>
<text x="1194.5" y="1077" class="dim" text-anchor="middle">136</text>
<text x="1194.5" y="1099" class="dim" text-anchor="middle">122</text>
<text x="1194.5" y="1119" class="dim" text-anchor="middle">110</text>
<text x="1194.5" y="1140" class="dim" text-anchor="middle">90</text>
<path class="w" d="M1157,1167V1161Q1157,1157 1162,1157H1226Q1231,1157 1231,1161V1167"/>
<rect x="1185" y="1152" width="20" height="6" class="w"/>
<path class="w" d="M1157,1229V1235Q1157,1239 1162,1239H1226Q1231,1239 1231,1235V1229"/>
<rect x="1106" y="1164" width="177" height="67" rx="4" class="o" stroke-width="1.4"/>
<path class="n" d="M1123,1167V1228 M1266,1167V1228"/>
<path stroke="#1a1a1a" stroke-width="2.2" d="M1121,1174V1222 M1268,1174V1222"/>
<g class="n">
<circle cx="1114.4" cy="1171.6" r="6"/><circle cx="1274" cy="1171.6" r="6"/><circle cx="1114.4" cy="1224" r="6"/><circle cx="1274" cy="1224" r="6"/>
<path d="M1106,1171.6H1123 M1114.4,1164V1179 M1266,1171.6H1282 M1274,1164V1179 M1106,1224H1123 M1114.4,1216V1231 M1266,1224H1282 M1274,1216V1231"/>
<circle cx="1142.5" cy="1198" r="7.5" stroke-width="1.8"/><circle cx="1142.5" cy="1198" r="4"/>
<circle cx="1194.5" cy="1198" r="7.5" stroke-width="1.8"/><circle cx="1194.5" cy="1198" r="4"/>
<circle cx="1246.6" cy="1198" r="7.5" stroke-width="1.8"/><circle cx="1246.6" cy="1198" r="4"/>
</g>
<g fill="#2a2a2a">
<circle cx="1142.5" cy="1177" r="3.5"/><circle cx="1246.6" cy="1177" r="3.5"/><circle cx="1142.5" cy="1218.6" r="3.5"/><circle cx="1246.6" cy="1218.6" r="3.5"/>
</g>
<path class="t" d="M1136,1177H1149 M1142.5,1171V1183 M1240,1177H1253 M1246.6,1171V1183 M1136,1218.6H1149 M1142.5,1212V1225 M1240,1218.6H1253 M1246.6,1212V1225"/>
<path class="cl" d="M1095,1198H1292 M1194.5,1150V1282"/>
<path class="hd" d="M1171,1240V1250Q1171,1253 1175,1253H1208Q1212,1253 1212,1250V1240"/>
<path class="n" d="M1187,1250V1278H1197 M1197,1250V1278"/>
<path class="t" d="M1020,1164H1106 M1020,1231H1106 M1043,1168.7H1110 M1043,1226.7H1110 M1063,1171.6H1114 M1063,1224H1114 M1086,1177H1142 M1086,1218.6H1142"/>
<path class="d" d="M1026.2,1164V1231"/>
<path class="d" d="M1047.6,1168.7V1226.7"/>
<path class="d" d="M1067.3,1171.6V1224"/>
<path class="d" d="M1090.4,1177V1218.6"/>
<text transform="translate(1020.5,1197) rotate(-90)" class="dim" text-anchor="middle">53</text>
<text transform="translate(1042.5,1197) rotate(-90)" class="dim" text-anchor="middle">47</text>
<text transform="translate(1062,1197) rotate(-90)" class="dim" text-anchor="middle">40</text>
<text transform="translate(1084.8,1197) rotate(-90)" class="dim" text-anchor="middle">32</text>
<text x="901" y="1252" font-size="11.5" textLength="182" lengthAdjust="spacingAndGlyphs">4-φ7 Through ( For Cylinder install)</text>
<path class="t" d="M912.6,1257.4H1090.4L1109,1231"/>
<text x="896" y="1277" font-size="11.5" textLength="200" lengthAdjust="spacingAndGlyphs">4-M6 Depth 14 ( For workpiece install)</text>
<path class="t" d="M915.5,1282.7H1104.9L1141,1222.6"/>

<!-- bottom GD -->
<text transform="translate(966.7,1372) rotate(-90)" font-size="15" text-anchor="middle">Linear shaft</text>
<text transform="translate(985.5,1371) rotate(-90)" font-size="15" text-anchor="middle">Dia φ 12</text>
<rect x="881" y="1417" width="188" height="69" class="o"/>
<rect x="881" y="1426" width="188" height="5" fill="#2a2a2a"/>
<rect x="881" y="1472" width="188" height="4" fill="#2a2a2a"/>
<rect x="901" y="1444.5" width="153" height="17" class="o"/>
<path class="hd" d="M1034,1446V1460"/>
<rect x="894" y="1410" width="16" height="7" class="w"/>
<rect x="1054" y="1439" width="49.5" height="25" class="o"/>
<path class="cl" d="M1069,1419H1103 M1069,1484H1103"/>
<path class="t" d="M1069,1424H1103 M1069,1479H1103"/>
<rect x="1103.5" y="1417" width="19" height="69" class="o"/>
<rect x="1122" y="1427" width="8" height="49" class="w"/>
<rect x="1144" y="1421" width="17" height="61" class="o"/>
<path class="n" d="M1130,1437H1144 M1130,1445H1144 M1130,1460H1144 M1130,1470H1144"/>
<path class="cl" d="M1161,1437H1274 M1161,1445H1274 M1161,1460H1274 M1161,1470H1274"/>
<rect x="1274" y="1421" width="17" height="61" class="w"/>
<rect x="1268" y="1437" width="6" height="8" class="w"/><rect x="1268" y="1460" width="6" height="10" class="w"/>
<path class="t" d="M990.7,1327V1437 M990.7,1461.7V1476"/>
<path class="d1" d="M990.7,1420V1444.5"/>
<path class="d1" d="M990.7,1476V1461.7"/>
<path class="t" d="M1103.5,1388V1417 M1120.8,1388V1427 M1161.3,1388V1421 M1291.4,1388V1421 M1144,1408V1421"/>
<path class="d1" d="M1085,1394H1103.5"/>
<path class="t" d="M1103.5,1394H1120.8"/>
<path class="d" d="M1120.8,1394H1161.3"/>
<path class="d" d="M1161.3,1394H1291.4"/>
<text x="1112" y="1389" class="dim" text-anchor="middle">14</text>
<text x="1141" y="1389" class="dim" text-anchor="middle">31.5</text>
<text x="1228" y="1384" font-size="19" text-anchor="middle">Stroke S</text>
<path class="d1" d="M1124,1414.7H1144"/>
<path class="d1" d="M1180,1414.7H1161.3"/>
<text x="1180" y="1411" class="dim" text-anchor="middle">14</text>
<path class="t" d="M899.6,1462V1525 M1054.3,1464V1525 M1103.5,1486V1525"/>
<path class="d" d="M899.6,1521H1054.3"/>
<path class="d" d="M1054.3,1521H1103.5"/>
<text x="975.5" y="1511" font-size="17.5" text-anchor="middle">Stroke +19.5</text>
<text x="1079" y="1514" class="dim" text-anchor="middle">37</text>

<!-- watermarks -->
<g font-size="46" font-weight="bold" fill="#000" opacity="0.045" text-anchor="middle" font-family="Liberation Sans, sans-serif">
<text transform="translate(290,45) rotate(-30)">misumi</text>
<text transform="translate(575,35) rotate(-30)">misumi</text>
<text transform="translate(860,30) rotate(-30)">misumi</text>
<text transform="translate(1145,30) rotate(-30)">misumi</text>
<text transform="translate(40,300) rotate(-30)">misumi</text>
<text transform="translate(600,290) rotate(-30)">misumi</text>
<text transform="translate(880,300) rotate(-30)">misumi</text>
<text transform="translate(310,590) rotate(-30)">misumi</text>
<text transform="translate(600,580) rotate(-30)">misumi</text>
<text transform="translate(880,590) rotate(-30)">misumi</text>
<text transform="translate(1165,590) rotate(-30)">misumi</text>
<text transform="translate(40,870) rotate(-30)">misumi</text>
<text transform="translate(310,870) rotate(-30)">misumi</text>
<text transform="translate(600,870) rotate(-30)">misumi</text>
<text transform="translate(880,870) rotate(-30)">misumi</text>
<text transform="translate(1165,870) rotate(-30)">misumi</text>
<text transform="translate(40,1150) rotate(-30)">misumi</text>
<text transform="translate(310,1150) rotate(-30)">misumi</text>
<text transform="translate(600,1150) rotate(-30)">misumi</text>
<text transform="translate(880,1150) rotate(-30)">misumi</text>
<text transform="translate(1165,1150) rotate(-30)">misumi</text>
<text transform="translate(40,1440) rotate(-30)">misumi</text>
<text transform="translate(310,1440) rotate(-30)">misumi</text>
<text transform="translate(600,1440) rotate(-30)">misumi</text>
<text transform="translate(880,1440) rotate(-30)">misumi</text>
<text transform="translate(1165,1440) rotate(-30)">misumi</text>
</g>
</svg>
</body></html>
